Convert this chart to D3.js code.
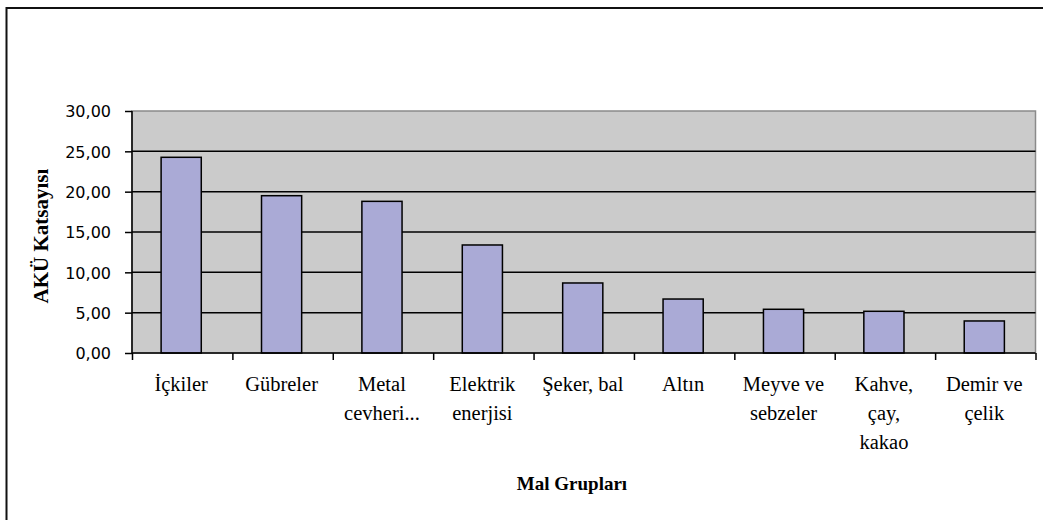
<!DOCTYPE html>
<html>
<head>
<meta charset="utf-8">
<script src="https://cdn.jsdelivr.net/npm/d3@7"></script>
<style>
  body { margin: 0; background: #fff; }
  .ytick text { font-family: "DejaVu Sans", sans-serif; font-size: 16px; fill: #000; }
  .xlab { font-family: "Liberation Serif", serif; font-size: 20.5px; fill: #000; }
  .atitle { font-family: "Liberation Serif", serif; font-weight: bold; fill: #000; }
</style>
</head>
<body>
<div id="chart"></div>
<script>
// data
var categories = ["İçkiler", "Gübreler", "Metal cevheri...", "Elektrik enerjisi", "Şeker, bal",
                  "Altın", "Meyve ve sebzeler", "Kahve, çay, kakao", "Demir ve çelik"];
var labelLines = [["İçkiler"], ["Gübreler"], ["Metal", "cevheri..."], ["Elektrik", "enerjisi"],
                  ["Şeker, bal"], ["Altın"], ["Meyve ve", "sebzeler"], ["Kahve,", "çay,", "kakao"],
                  ["Demir ve", "çelik"]];
var values = [24.26, 19.5, 18.8, 13.39, 8.68, 6.69, 5.42, 5.17, 3.97];
var yTicks = [0, 5, 10, 15, 20, 25, 30];
var yTitle = "AKÜ Katsayısı";
var xTitle = "Mal Grupları";

var W = 1043, H = 520;
var plot = {left: 132, right: 1035.5, top: 111, bottom: 353};

var svg = d3.select("#chart").append("svg")
    .attr("width", W)
    .attr("height", H);

// outer chart border (runs off the right and bottom edges)
svg.append("rect")
    .attr("x", 6.5).attr("y", 8)
    .attr("width", W + 10).attr("height", H + 10)
    .attr("fill", "#fff")
    .attr("stroke", "#111")
    .attr("stroke-width", 2);

var trLocale = d3.formatLocale({decimal: ",", thousands: ".", grouping: [3], currency: ["", ""]});
var fmt = trLocale.format(".2f");

var y = d3.scaleLinear().domain([0, 30]).range([plot.bottom, plot.top]);
var x = d3.scaleBand().domain(categories).range([plot.left, plot.right]).paddingInner(0.6).paddingOuter(0.3);
var xEdge = d3.scaleLinear().domain([0, categories.length]).range([plot.left, plot.right]);

// plot background
svg.append("rect")
    .attr("x", plot.left).attr("y", plot.top)
    .attr("width", plot.right - plot.left)
    .attr("height", plot.bottom - plot.top)
    .attr("fill", "#cbcbcb")
    .attr("stroke", "#8a8a8a")
    .attr("stroke-width", 1.5);

// gridlines
svg.append("g")
    .selectAll("line")
    .data(yTicks.filter(function(d) { return d > 0 && d < 30; }))
    .enter()
    .append("line")
    .attr("x1", plot.left).attr("x2", plot.right)
    .attr("y1", function(d) { return y(d); })
    .attr("y2", function(d) { return y(d); })
    .attr("stroke", "#000")
    .attr("stroke-width", 1.5);

// bars
svg.append("g")
    .selectAll("rect")
    .data(values)
    .enter()
    .append("rect")
    .attr("x", function(d, i) { return x(categories[i]) - 1; })
    .attr("y", function(d) { return y(d); })
    .attr("width", x.bandwidth())
    .attr("height", function(d) { return y(0) - y(d); })
    .attr("fill", "#aaaad6")
    .attr("stroke", "#000")
    .attr("stroke-width", 1.5);

// y axis
var yAxis = d3.axisLeft(y).tickValues(yTicks).tickSize(7).tickPadding(14).tickFormat(fmt);
var yg = svg.append("g")
    .attr("class", "ytick")
    .attr("transform", "translate(" + plot.left + ",0)")
    .call(yAxis);
yg.select(".domain").attr("stroke", "#000").attr("stroke-width", 1.5).attr("d", "M0," + plot.top + "V" + plot.bottom);
yg.selectAll(".tick line").attr("stroke", "#000").attr("stroke-width", 1.5);
yg.selectAll(".tick text").attr("font-family", null).attr("font-size", null).attr("dy", "0.36em");

// x axis with ticks between categories
var xAxis = d3.axisBottom(xEdge).tickValues(d3.range(categories.length + 1)).tickSize(7).tickFormat("");
var xg = svg.append("g")
    .attr("transform", "translate(0," + plot.bottom + ")")
    .call(xAxis);
xg.select(".domain").attr("stroke", "#000").attr("stroke-width", 1.5).attr("d", "M" + plot.left + ",0H" + plot.right);
xg.selectAll(".tick line").attr("stroke", "#000").attr("stroke-width", 1.5);

// category labels
var labs = svg.append("g")
    .selectAll("text")
    .data(labelLines)
    .enter()
    .append("text")
    .attr("class", "xlab")
    .attr("text-anchor", "middle")
    .attr("x", function(d, i) { return x(categories[i]) + x.bandwidth() / 2 - 1; })
    .attr("y", 391);
labs.selectAll("tspan")
    .data(function(d) { return d; })
    .enter()
    .append("tspan")
    .attr("x", function() { return d3.select(this.parentNode).attr("x"); })
    .attr("dy", function(d, j) { return j === 0 ? 0 : 29; })
    .text(function(d) { return d; });

// axis titles
svg.append("text")
    .attr("class", "atitle")
    .attr("font-size", 21)
    .attr("text-anchor", "middle")
    .attr("transform", "translate(48," + ((plot.top + plot.bottom) / 2 + 4) + ") rotate(-90)")
    .text(yTitle);

svg.append("text")
    .attr("class", "atitle")
    .attr("font-size", 19)
    .attr("text-anchor", "middle")
    .attr("x", 572)
    .attr("y", 490)
    .text(xTitle);
</script>
</body>
</html>
